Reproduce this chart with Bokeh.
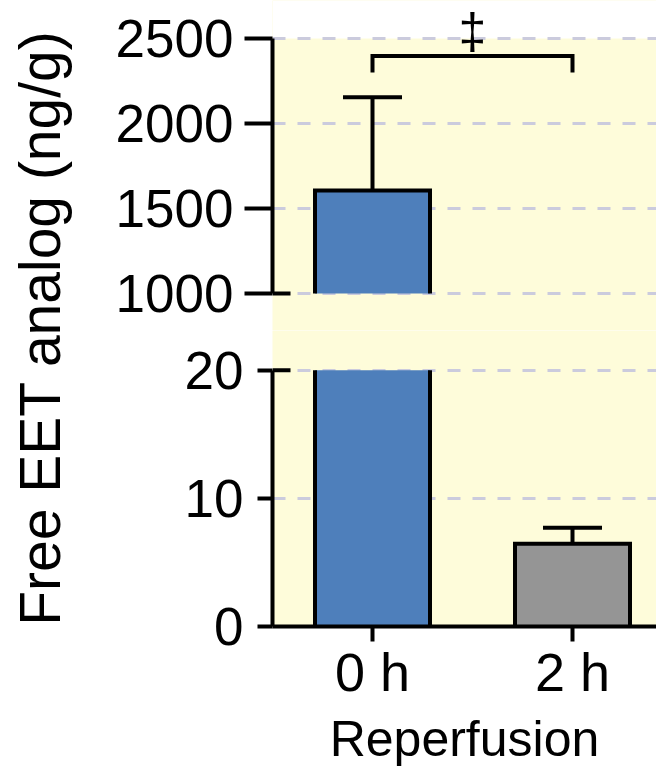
import numpy as np
from bokeh.plotting import figure
from bokeh.layouts import row, column
from bokeh.models import Range1d, FixedTicker, BoxAnnotation, ColumnDataSource
from bokeh.core.properties import value
from bokeh.embed import file_html
from bokeh.resources import INLINE

# ---------------- data ----------------
categories = ["0 h", "2 h"]
means = [1606.0, 6.46]          # ng/g
sems = [549.0, 1.24]            # error bar (upper)
bar_colors = ["#4e7fbb", "#959595"]
upper_ticks = [1000, 1500, 2000, 2500]
lower_ticks = [0, 10, 20]
upper_segment = (1000, 2500)    # broken-axis upper segment
lower_segment = (0, 20)         # broken-axis lower segment
sig_label = "\u2021"
bracket_y = 2397
bracket_leg = 2300
sig_y = 2547
y_title = "Free EET analog (ng/g)"
x_title = "Reperfusion"

# ---------------- style ----------------
FONT = "Liberation Sans"
YELLOW = "#fefcda"
GRID = "#cbcbdd"
LW = 4
BAR_W = 0.575
CAP_W = 0.295
X_RANGE = (-0.5, 1.42)
UPPER_VIEW = (782.35, 2723.5)
LOWER_VIEW = (0, 23.1)
PANEL_W = 548
xpos = list(range(len(categories)))


def base_fig(height, y_view, **kw):
    p = figure(width=PANEL_W, height=height, x_range=Range1d(*X_RANGE), y_range=Range1d(*y_view),
               toolbar_location=None, output_backend="svg",
               min_border_left=164, min_border_right=0, min_border_top=0, **kw)
    p.outline_line_color = None
    p.background_fill_color = YELLOW
    p.border_fill_color = "white"
    p.xgrid.visible = False
    return p


def style_yaxis(p, ticks, bounds, tick_out, standoff):
    t = FixedTicker(ticks=ticks)
    ax = p.yaxis[0]
    ax.ticker = t
    ax.bounds = bounds
    ax.minor_tick_line_color = None
    ax.major_tick_in = 0
    ax.major_tick_out = tick_out
    ax.major_tick_line_width = LW
    ax.major_tick_line_color = "black"
    ax.axis_line_width = LW
    ax.axis_line_color = "black"
    ax.major_label_text_font = FONT
    ax.major_label_text_font_size = "53px"
    ax.major_label_text_color = "black"
    ax.major_label_standoff = standoff
    g = p.ygrid[0]
    g.ticker = t
    g.grid_line_color = GRID
    g.grid_line_width = 3
    g.grid_line_dash = "13 12"


def draw_segment(p, seg):
    lo, hi = seg
    fx, ft, fb, fc = [], [], [], []
    xs, ys = [], []
    for x, m, c in zip(xpos, means, bar_colors):
        b = max(0, lo)
        t = min(m, hi)
        if t <= b:
            continue
        fx.append(x); ft.append(t); fb.append(b); fc.append(c)
        l, r = x - BAR_W / 2, x + BAR_W / 2
        if m <= hi:
            xs.append([l, l, r, r]); ys.append([b, t, t, b])
        else:
            xs += [[l, l], [r, r]]; ys += [[b, t], [b, t]]
    src = ColumnDataSource(dict(x=fx, top=ft, bottom=fb, color=fc))
    p.vbar(x="x", top="top", bottom="bottom", width=BAR_W, fill_color="color",
           line_color=None, source=src)
    wx0, wy0, wx1, wy1 = [], [], [], []
    for x, m, e in zip(xpos, means, sems):
        if lo < m <= hi:
            wx0 += [x, x - CAP_W / 2]; wy0 += [m, m + e]
            wx1 += [x, x + CAP_W / 2]; wy1 += [m + e, m + e]
    if wx0:
        p.segment(x0=wx0, y0=wy0, x1=wx1, y1=wy1, line_color="black", line_width=LW)
    p.multi_line(xs, ys, line_color="black", line_width=LW, line_join="miter")


# ---------------- upper panel ----------------
top = base_fig(330, UPPER_VIEW, x_axis_location=None, min_border_bottom=0)
top.add_layout(BoxAnnotation(bottom=upper_segment[1], fill_color="white", fill_alpha=1.0,
                             line_color=None, level="image"))
style_yaxis(top, upper_ticks, upper_segment, 28, 11)
draw_segment(top, upper_segment)
top.segment(x0=[X_RANGE[0]], y0=[upper_segment[0]], x1=[X_RANGE[0] + 0.09], y1=[upper_segment[0]],
            line_color="black", line_width=LW)
top.line(x=[xpos[0], xpos[0], xpos[1], xpos[1]], y=[bracket_leg, bracket_y, bracket_y, bracket_leg],
         line_color="black", line_width=LW, line_join="miter")
top.text(x=[(xpos[0] + xpos[1]) / 2], y=[sig_y], text=[sig_label], text_align="center",
         text_baseline="middle", text_font=value(FONT), text_font_size="50px",
         text_color="black")

# ---------------- lower panel ----------------
bottom = base_fig(439, LOWER_VIEW, min_border_bottom=141)
style_yaxis(bottom, lower_ticks, lower_segment, 15, 14)
draw_segment(bottom, lower_segment)
bottom.segment(x0=[X_RANGE[0]], y0=[lower_segment[1]], x1=[X_RANGE[0] + 0.09], y1=[lower_segment[1]],
               line_color="black", line_width=LW)
xa = bottom.xaxis[0]
xa.ticker = FixedTicker(ticks=xpos)
xa.major_label_overrides = {i: c for i, c in zip(xpos, categories)}
xa.minor_tick_line_color = None
xa.major_tick_in = 0
xa.major_tick_out = 15
xa.major_tick_line_width = LW
xa.major_tick_line_color = "black"
xa.axis_line_width = LW
xa.axis_line_color = "black"
xa.major_label_text_font = FONT
xa.major_label_text_font_size = "54px"
xa.major_label_text_color = "black"
xa.major_label_standoff = 0
xa.axis_label = x_title
xa.axis_label_text_font = FONT
xa.axis_label_text_font_size = "50px"
xa.axis_label_text_font_style = "normal"
xa.axis_label_text_color = "black"
xa.axis_label_standoff = 6

# ---------------- y title panel ----------------
lab = figure(width=108, height=769, x_range=Range1d(0, 108), y_range=Range1d(0, 769),
             x_axis_location=None, y_axis_location=None, toolbar_location=None,
             output_backend="svg", min_border=0)
lab.grid.visible = False
lab.outline_line_color = None
lab.text(x=[39.5], y=[441.5], text=[y_title], angle=np.pi / 2, text_align="center",
         text_baseline="middle", text_font=value(FONT), text_font_size="57px", text_color="black")

layout = row(lab, column(top, bottom))
open("out.html", "w").write(file_html(layout, INLINE))
